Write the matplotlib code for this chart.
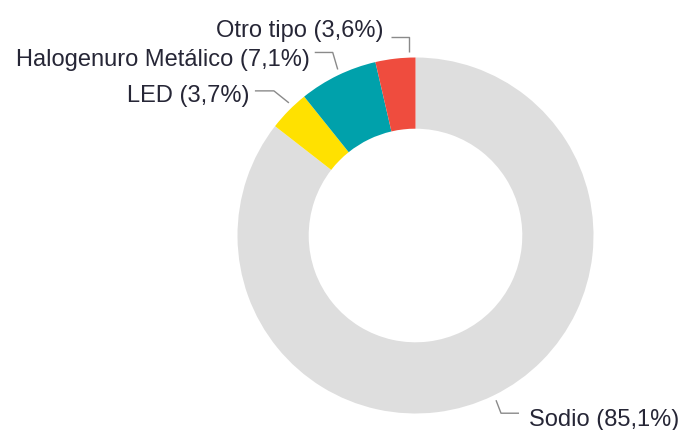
"""
Donut de distribución por tipo de lámpara.
"""
import numpy as np
import matplotlib.pyplot as plt

# datos
categories = ['Sodio', 'LED', 'Halogenuro Metálico', 'Otro tipo']
shares = [85.1, 3.7, 7.1, 3.6]
colors = ['#dedede', '#ffe100', '#00a1ab', '#ef4c3e']

text_color = '#262636'
line_color = '#8a8a8a'

plt.rcParams['font.family'] = ['Liberation Sans', 'DejaVu Sans']

fig = plt.figure(figsize=(6.84, 4.30), dpi=100)
ax = fig.add_axes([0, 0, 1, 1])

R = 1.0
wedges, _ = ax.pie(shares, colors=colors, startangle=90, counterclock=False,
                   radius=R, wedgeprops=dict(width=0.40, edgecolor='none'))

# posición del centro en píxeles (layout)
scale = 178.0
cx, cy = 415.5, 235.5
ax.set_xlim(-cx / scale, (684 - cx) / scale)
ax.set_ylim(-(430 - cy) / scale, cy / scale)
ax.set_aspect('equal')
ax.axis('off')

# layout de etiquetas en px: fracción del ancla en la cuña, codo (dx, dy),
# tramo horizontal, separación del texto, desplazamiento de la línea base, lado
layout = {
    'Otro tipo':           (0.16, 0, 15, 18, 7, 0, 'left'),
    'Halogenuro Metálico': (0.47, -5, 17, 18, 5, -14, 'left'),
    'LED':                 (0.37, -15, 12, 19, 5, -11, 'left'),
    'Sodio':               (0.50, 5, -13, 18, 10, -13, 'right'),
}

for w, cat, val in zip(wedges, categories, shares):
    frac, dx, dy, hl, gap, base, side = layout[cat]
    t1, t2 = w.theta1, w.theta2
    ang = np.deg2rad(t1 + (t2 - t1) * frac)
    px, py = 1.03 * R * np.cos(ang), 1.03 * R * np.sin(ang)
    ex, ey = px + dx / scale, py + dy / scale
    sgn = -1 if side == 'left' else 1
    hx = ex + sgn * hl / scale
    ax.plot([px, ex, hx], [py, ey, ey], color=line_color, lw=1.0,
            solid_capstyle='butt')
    label = f"{cat} ({val:.1f}%)".replace('.', ',')
    ax.text(hx + sgn * gap / scale, ey + base / scale, label,
            ha='right' if side == 'left' else 'left', va='baseline',
            fontsize=17, color=text_color)

fig.savefig('out.png', dpi=100, facecolor='white')
